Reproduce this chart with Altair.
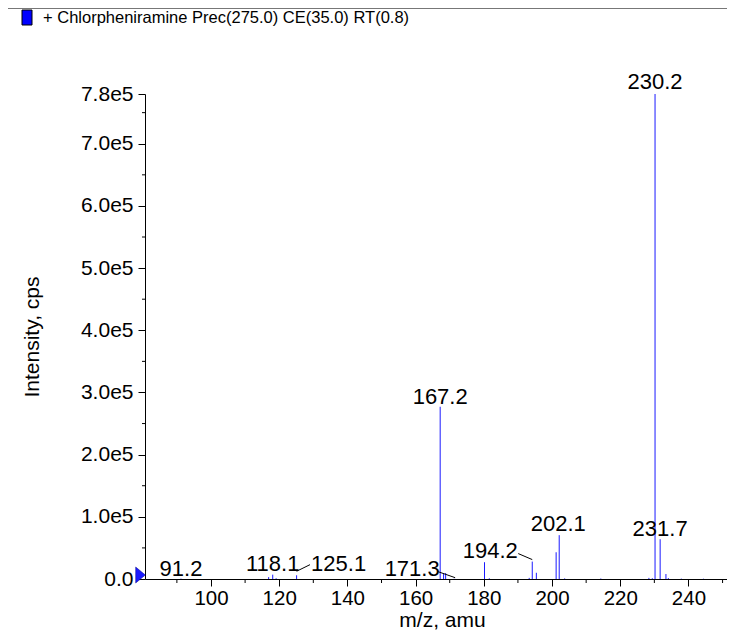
import altair as alt
import pandas as pd

FONT = "Liberation Sans"
BLUE = "#1a1aff"

# ---- spectrum data (m/z, intensity in cps) ----
mz = [91.2, 116.9, 118.1, 119.1, 125.1, 167.2, 168.2, 168.8, 171.3, 180.2,
      181.6, 193.3, 194.2, 195.4, 201.2, 202.1, 203.7, 214.3, 228.4, 229.4,
      230.2, 231.7, 233.4, 234.1, 237.9, 244.4]
intensity = [600, 3000, 7000, 1200, 6000, 277000, 9000, 9500, 500, 27000,
             1200, 1800, 28000, 10000, 43000, 70500, 1000, 800, 1800, 1200,
             780000, 64000, 8000, 1500, 600, 500]

# ---- peak labels ----
label_text = ["91.2", "118.1", "125.1", "167.2", "171.3", "194.2", "202.1", "230.2", "231.7"]
label_mz = [91.2, 118.1, 125.1, 167.2, 171.3, 194.2, 202.1, 230.2, 231.7]
label_dx = [0, 0, 42, 0, -42, -42, -1, 0, 0]
label_dy = [-3, -4, -4.5, -3, -2.5, -4, -4.5, -5, -3.7]

# leader lines: (x offset, y offset, x2 offset, y2 offset) from the peak top
leader_mz = [125.1, 171.3, 194.2]
leader_off = [(0, -4, 13.4, -10.6), (-16, -7, 1, -1), (-14, -8, 0, -2)]

# ---- axes ----
x_ticks = [100, 120, 140, 160, 180, 200, 220, 240]
x_minor = [90, 110, 130, 150, 170, 190, 210, 230, 250]
y_ticks = [0, 100000, 200000, 300000, 400000, 500000, 600000, 700000, 780000]
y_minor = [50000, 150000, 250000, 350000, 450000, 550000, 650000, 750000]
X_DOMAIN = [80.65, 251.3]
Y_DOMAIN = [0, 780000]

LEGEND = "+ Chlorpheniramine Prec(275.0) CE(35.0) RT(0.8)"
W, H = 582, 485

xs = alt.Scale(domain=X_DOMAIN, nice=False, zero=False)
ys = alt.Scale(domain=Y_DOMAIN, nice=False, zero=True)

XAX = alt.Axis(values=x_ticks, format="d", title="m/z, amu",
               tickSize=7, labelPadding=2, labelFontSize=20.5,
               titleX=297, titleY=47, titleBaseline="alphabetic",
               titleAlign="center")
YAX = alt.Axis(values=y_ticks, title="Intensity, cps",
               labelExpr="datum.value == 0 ? '0.0' : format(datum.value / 100000, '.1f') + 'e5'",
               tickSize=7, labelPadding=5,
               titleX=-113, titleY=H / 2, titleAngle=-90,
               titleAlign="center", titleBaseline="middle")


def X(field):
    return alt.X(field, scale=xs, axis=XAX)


def Y(field):
    return alt.Y(field, scale=ys, axis=YAX)


peaks = pd.DataFrame({"mz": mz, "intensity": intensity})
lookup = dict(zip(mz, intensity))

bars = alt.Chart(peaks).mark_rule(color=BLUE, strokeWidth=1).encode(
    x=X("mz:Q"), y=Y("intensity:Q"), y2=alt.datum(0))

layers = [bars]

# minor ticks
xm = alt.Chart(pd.DataFrame({"mz": x_minor})).mark_rule(color="black", strokeWidth=1).encode(
    x=X("mz:Q"), y=alt.value(H), y2=alt.value(H + 4))
ym = alt.Chart(pd.DataFrame({"intensity": y_minor})).mark_rule(color="black", strokeWidth=1).encode(
    y=Y("intensity:Q"), x=alt.value(-3), x2=alt.value(0))
layers += [xm, ym]

# peak labels
for t, m, dx, dy in zip(label_text, label_mz, label_dx, label_dy):
    d = pd.DataFrame({"mz": [m], "intensity": [lookup[m]], "t": [t]})
    layers.append(
        alt.Chart(d).mark_text(font=FONT, fontSize=22, color="black",
                               align="center", baseline="alphabetic", dx=dx, dy=dy)
        .encode(x=X("mz:Q"), y=Y("intensity:Q"), text="t:N"))

# leader lines
for m, (ox, oy, ox2, oy2) in zip(leader_mz, leader_off):
    d = pd.DataFrame({"mz": [m], "intensity": [lookup[m]]})
    layers.append(
        alt.Chart(d).mark_rule(color="black", strokeWidth=1,
                               xOffset=ox, yOffset=oy, x2Offset=ox2, y2Offset=oy2)
        .encode(x=X("mz:Q"), x2="mz:Q", y=Y("intensity:Q"), y2="intensity:Q"))

# blue triangle marker at zero
tri = alt.Chart(pd.DataFrame({"intensity": [0]})).mark_point(
    shape="M-0.6,-1L0.6,0L-0.6,1Z", size=256, filled=True, fill=BLUE,
    stroke="#00008b", strokeWidth=0.5, opacity=1, yOffset=-4
).encode(x=alt.value(-4.5), y=Y("intensity:Q"))
layers.append(tri)

# legend / header
one = pd.DataFrame({"a": [0]})
top_line = alt.Chart(one).mark_rule(color="#777", strokeWidth=1).encode(
    x=alt.value(-137), x2=alt.value(W), y=alt.value(-85.5))
sq = alt.Chart(one).mark_rect(fill="#0000ff", stroke="black", strokeWidth=1).encode(
    x=alt.value(-123), x2=alt.value(-113), y=alt.value(-84), y2=alt.value(-69))
lg = alt.Chart(one).mark_text(font=FONT, fontSize=16.5, align="left", baseline="middle",
                              color="black").encode(
    x=alt.value(-102), y=alt.value(-76), text=alt.value(LEGEND))
layers += [top_line, sq, lg]

chart = alt.layer(*layers).properties(
    width=W, height=H,
    background="white",
    autosize=alt.AutoSizeParams(type="none"),
    padding={"left": 137, "top": 86, "right": 0, "bottom": 52},
).configure_view(strokeWidth=0, stroke="transparent").configure_axis(
    grid=False, domainColor="black", tickColor="black", labelColor="black",
    titleColor="black", labelFont=FONT, titleFont=FONT, labelFontSize=21,
    titleFontSize=21, titleFontWeight="normal", domainWidth=1, tickWidth=1,
)

chart.save("out.html", embed_options={"renderer": "svg", "actions": False})
